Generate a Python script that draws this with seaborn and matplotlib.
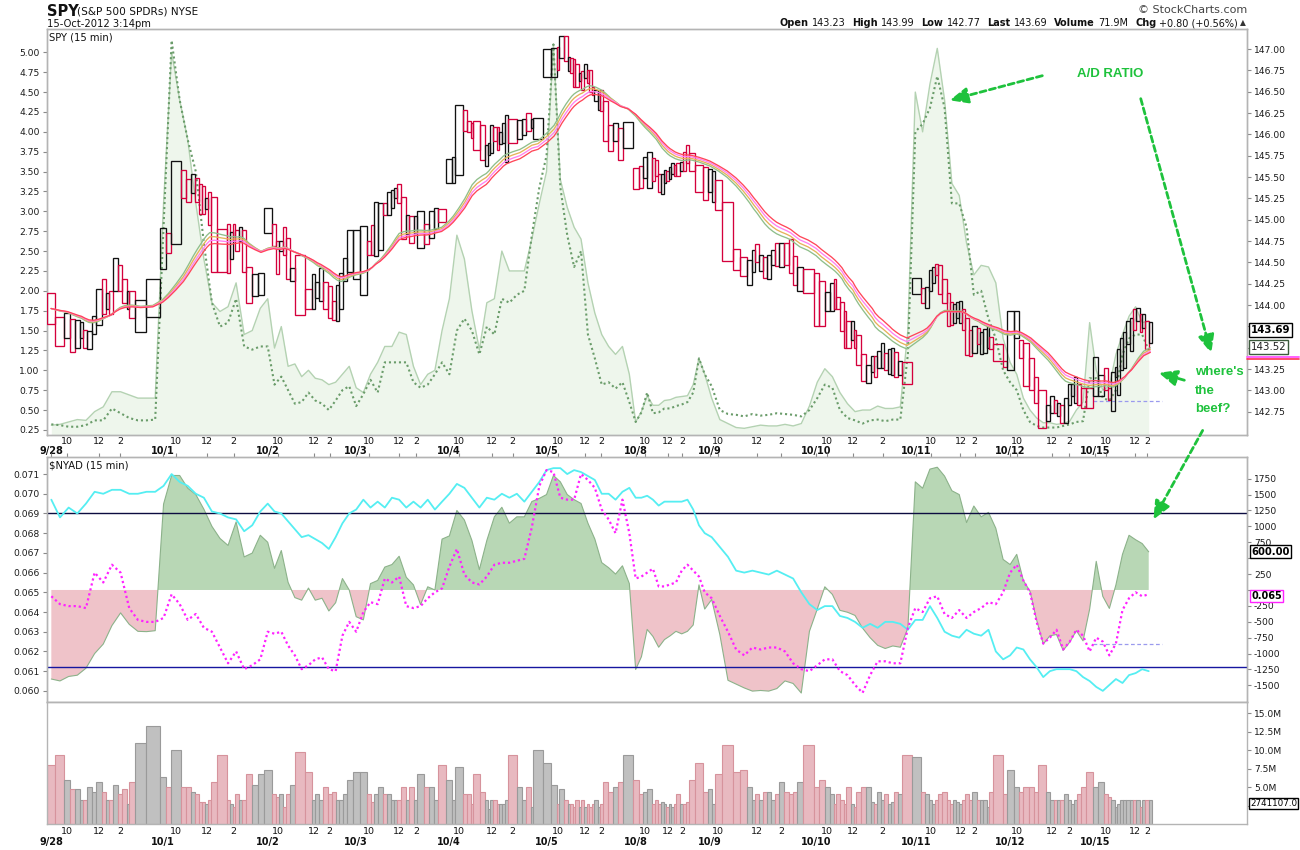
import numpy as np
import pandas as pd
import matplotlib
matplotlib.use("Agg")
import matplotlib.pyplot as plt
import matplotlib.transforms as mtrans
from matplotlib.patches import FancyArrowPatch
import seaborn as sns

# ---------------- data ----------------
day_labels = ["9/28", "10/1", "10/2", "10/3", "10/4", "10/5", "10/8", "10/9",
              "10/10", "10/11", "10/12", "10/15"]
boxes_per_day = [20, 22, 19, 20, 22, 23, 20, 20, 24, 24, 19, 17]
hour_labels = ["10", "12", "2"]
hour_box_idx = [[2, 9, 14], [2, 9, 15], [2, 9, 13], [2, 10, 14], [2, 10, 16],
                [2, 11, 17], [2, 9, 14], [2, 8, 14], [2, 9, 17], [3, 12, 16],
                [1, 8, 13], [2, 11, 15]]

# EquiVolume boxes (15-min): volume in millions (= box width), high, low, direction
box_volume = [
    8, 9.3, 6, 4.7, 4.7, 3.3, 3.3, 5, 4.3, 5.7, 4.3, 3.3, 3.3, 5.3, 4, 4.7, 2.7, 5.7, 11, 13.3,
    6.3, 5, 10, 5, 5, 4.3, 4, 3, 3, 2.7, 3.3, 5.7, 9.3, 3.3, 2.7, 2.3, 4, 3.3, 3.3, 6.7, 5.3, 6.7,
    7.3, 4, 3.7, 4, 2.3, 4, 5.3, 9.7, 7, 3.3, 4, 3.3, 5, 4, 4.3, 3.3, 3.3, 4, 6,
    7, 7, 4, 3, 4, 5, 4, 4, 3.3, 3.3, 3.3, 5, 3.3, 5, 3.3, 6.7, 5, 5, 3.3, 8,
    6, 3.3, 7.7, 4, 4, 2.7, 6.7, 4.3, 3.3, 2, 3.3, 3.3, 2.7, 2.7, 2.7, 3.3, 9.3, 5, 3.3, 5, 2.3, 10,
    8.3, 5.3, 2.7, 4.7, 3.3, 2.7, 2.7, 2.3, 3.3, 2.3, 3.3, 2.3, 2.7, 2.3, 2.7, 3.3, 2.3, 2.7, 5.7, 4.3, 5, 5.7, 9.3,
    6, 4, 4.3, 4.7, 2.7, 3.3, 2.7, 3, 2.7, 2.3, 2.7, 2.3, 2.7, 4, 2.7, 2.7, 3, 6, 8.3, 4.3,
    4.7, 2.7, 6.7, 10.7, 7, 7.3, 5, 3.3, 4, 3.3, 4.3, 4.3, 3.3, 4, 5.7, 4.3, 4, 4.3, 5.7, 10.7,
    5, 6, 5, 4, 2.7, 4, 3.3, 2.7, 5, 2.7, 2.3, 4.3, 5, 5, 3, 2.7, 4.3, 3.3, 4, 2.7, 3, 4.3, 4, 9.3,
    9, 4.3, 4, 3.3, 2.7, 3.3, 4, 4.3, 3.3, 2.7, 3.3, 3, 2.7, 3.3, 4, 3.3, 4.3, 3.3, 3.3, 3.3, 2.3, 4.3, 9.3, 4,
    7.3, 5, 4.3, 5, 5, 4.3, 8, 4.3, 3.3, 3.3, 3.3, 3.3, 4, 3.3, 2.7, 3.3, 4, 5, 7,
    5, 5.7, 4, 3.7, 3.3, 2.3, 2.7, 3.3, 3.3, 3.3, 3.3, 3.3, 3.3, 2.3, 3.3, 3.3, 3.3,
]
box_high = [
    144.14, 143.86, 143.91, 143.84, 143.82, 143.80, 143.71, 143.70, 143.87, 144.19, 144.30, 144.14, 144.17, 144.55, 144.47, 144.30, 144.16, 144.16, 144.06, 144.30,
    144.90, 144.84, 145.69, 145.58, 145.48, 145.54, 145.49, 145.42, 145.40, 145.25, 145.32, 145.27, 144.89, 144.95, 144.86, 144.95, 144.88, 144.91, 144.88, 144.45, 144.36, 144.38,
    145.14, 144.95, 144.75, 144.75, 144.92, 144.79, 144.43, 144.59, 144.19, 144.36, 144.27, 144.43, 144.27, 144.22, 144.05, 144.23, 144.38, 144.55, 144.88,
    144.88, 144.93, 144.75, 144.94, 145.21, 145.20, 145.20, 145.33, 145.35, 145.37, 145.42, 145.27, 145.05, 145.04, 145.04, 145.10, 144.95, 145.10, 145.14, 145.13,
    145.71, 145.73, 146.34, 146.29, 146.16, 146.13, 146.16, 146.11, 145.88, 145.90, 146.11, 146.09, 146.09, 146.03, 146.13, 146.23, 146.18, 146.17, 146.18, 146.25, 146.18, 146.19,
    147.00, 147.01, 147.02, 147.15, 147.15, 146.91, 146.89, 146.88, 146.82, 146.72, 146.74, 146.82, 146.76, 146.76, 146.56, 146.52, 146.50, 146.52, 146.39, 146.11, 146.13, 146.08, 146.14,
    145.61, 145.63, 145.73, 145.79, 145.72, 145.70, 145.54, 145.53, 145.58, 145.57, 145.62, 145.66, 145.64, 145.66, 145.68, 145.79, 145.88, 145.78, 145.64, 145.62,
    145.59, 145.57, 145.47, 145.21, 144.66, 144.56, 144.53, 144.64, 144.71, 144.59, 144.56, 144.59, 144.65, 144.73, 144.73, 144.73, 144.77, 144.57, 144.45, 144.42,
    144.38, 144.28, 144.15, 144.26, 144.30, 144.10, 144.04, 143.93, 143.81, 143.81, 143.71, 143.65, 143.43, 143.30, 143.40, 143.40, 143.46, 143.55, 143.44, 143.48, 143.50, 143.45, 143.34, 143.33,
    144.32, 144.20, 144.21, 144.41, 144.45, 144.48, 144.47, 144.30, 144.14, 144.04, 144.01, 144.04, 144.05, 143.96, 143.85, 143.71, 143.75, 143.73, 143.69, 143.72, 143.75, 143.63, 143.54, 143.34,
    143.93, 143.93, 143.59, 143.55, 143.38, 143.16, 143.01, 142.83, 142.93, 142.89, 142.85, 142.83, 142.91, 143.07, 143.07, 143.16, 143.07, 143.03, 143.03,
    143.39, 143.18, 143.26, 143.03, 143.22, 143.28, 143.48, 143.61, 143.69, 143.81, 143.85, 143.96, 143.97, 143.89, 143.89, 143.81, 143.80,
]
box_low = [
    143.78, 143.52, 143.61, 143.45, 143.50, 143.61, 143.50, 143.49, 143.66, 143.77, 143.89, 143.96, 143.89, 144.16, 144.16, 144.02, 143.96, 143.85, 143.69, 143.86,
    144.42, 144.61, 144.71, 145.25, 145.21, 145.31, 145.21, 145.07, 145.07, 145.13, 144.94, 144.39, 144.39, 144.38, 144.54, 144.75, 144.63, 144.75, 144.39, 144.02, 144.11, 144.12,
    144.84, 144.69, 144.36, 144.63, 144.59, 144.30, 144.28, 143.88, 143.96, 143.96, 144.08, 144.05, 143.95, 143.85, 143.82, 143.81, 143.95, 144.28, 144.39,
    144.30, 144.12, 144.59, 144.59, 144.57, 144.65, 145.06, 145.06, 145.14, 145.25, 145.20, 144.78, 144.83, 144.73, 144.84, 144.67, 144.72, 144.79, 144.89, 144.97,
    145.43, 145.43, 145.52, 146.04, 146.03, 145.96, 145.82, 145.70, 145.63, 145.76, 145.78, 145.92, 145.82, 145.89, 145.90, 145.68, 145.90, 145.94, 145.99, 146.04, 146.07, 145.95,
    146.67, 146.67, 146.75, 146.89, 146.86, 146.74, 146.72, 146.56, 146.56, 146.62, 146.52, 146.66, 146.60, 146.50, 146.46, 146.39, 146.29, 146.27, 145.92, 145.81, 145.92, 145.70, 145.84,
    145.36, 145.37, 145.49, 145.37, 145.45, 145.51, 145.33, 145.30, 145.43, 145.45, 145.48, 145.53, 145.51, 145.51, 145.57, 145.57, 145.66, 145.57, 145.32, 145.23,
    145.33, 145.21, 145.11, 144.52, 144.41, 144.34, 144.24, 144.39, 144.51, 144.40, 144.32, 144.31, 144.47, 144.46, 144.45, 144.47, 144.38, 144.23, 144.16, 144.14,
    143.75, 143.75, 143.93, 143.93, 143.95, 143.95, 143.70, 143.50, 143.50, 143.59, 143.50, 143.30, 143.11, 143.09, 143.22, 143.16, 143.26, 143.26, 143.24, 143.19, 143.18, 143.16, 143.18, 143.07,
    144.13, 144.02, 143.97, 144.16, 144.26, 144.35, 144.13, 144.02, 143.75, 143.77, 143.79, 143.85, 143.79, 143.71, 143.42, 143.40, 143.44, 143.54, 143.43, 143.44, 143.50, 143.48, 143.35, 143.28,
    143.24, 143.61, 143.38, 143.05, 143.01, 142.85, 142.56, 142.64, 142.73, 142.73, 142.70, 142.62, 142.62, 142.83, 142.93, 142.85, 142.83, 142.79, 142.79,
    142.94, 142.94, 143.01, 142.89, 142.76, 143.16, 142.95, 143.24, 143.26, 143.54, 143.46, 143.71, 143.81, 143.69, 143.73, 143.48, 143.55,
]
box_dir = ("rrbrbbrbbbrbrbrrbrbb" "brbrrbrrrbrrrrbrrbrrbb" "brrbrrbrrbbbrrrbbbb"
           "bbrrbbrbbbrrbrbbrbbr" "bbbrrrrrbbbrrbbbrbbrbb" "bbrbrbrrrbrbrrrbbrrrbrb"
           "rrbbrrrbbrbbrrbrrrrr" "bbrrrrbbrbrbbrbrrrbr" "rrbbrrrrrbrrrbbrbbrbbrbr"
           "brbbbrrrrrbbbrrrbrbbbrrr" "bbrrrrrbbrbrbbbbrrr" "bbrrbbbbbbbrbrbrb")

# Indicator samples (every 30 min per day; 10/15 partial)
points_per_day = [13] * 11 + [9]
ad_ratio = [
    0.31, 0.32, 0.35, 0.38, 0.37, 0.48, 0.54, 0.73, 0.73, 0.69, 0.65, 0.65, 0.65,
    3.1, 5.0, 4.4, 3.9, 3.1, 2.4, 1.85, 1.74, 1.8, 2.1, 1.45, 1.5, 1.78,
    1.9, 1.28, 1.55, 1.05, 1.08, 0.92, 1.0, 0.9, 0.88, 0.82, 0.85, 0.95, 1.05,
    0.78, 0.72, 0.95, 1.1, 1.3, 1.3, 1.48, 1.45, 1.05, 0.82, 0.95, 1.0, 1.5,
    1.9, 2.7, 2.4, 1.75, 1.26, 1.85, 1.9, 2.5, 2.25, 2.25, 2.25, 2.65, 3.1,
    3.5, 5.1, 3.4, 3.05, 2.8, 2.65, 2.1, 1.72, 1.45, 1.3, 1.2, 1.3, 0.95,
    0.35, 0.48, 0.68, 0.56, 0.56, 0.62, 0.63, 0.66, 0.67, 0.68, 0.82, 1.15, 0.95,
    0.65, 0.38, 0.33, 0.28, 0.27, 0.29, 0.31, 0.30, 0.30, 0.32, 0.30, 0.33, 0.55,
    0.85, 1.02, 0.92, 0.72, 0.58, 0.48, 0.50, 0.50, 0.55, 0.52, 0.52, 0.54, 1.5,
    4.5, 4.0, 4.6, 5.05, 4.4, 3.35, 3.2, 2.6, 2.2, 2.32, 2.3, 2.1, 1.4,
    1.1, 0.95, 0.65, 0.5, 0.4, 0.34, 0.34, 0.32, 0.33, 0.36, 0.5, 0.6, 1.6,
    1.0, 0.75, 0.8, 1.2, 1.45, 1.68, 1.8, 1.6, 1.62,
]
ad_ratio_2 = [
    0.32, 0.31, 0.29, 0.29, 0.31, 0.37, 0.37, 0.52, 0.46, 0.40, 0.37, 0.37, 0.38,
    2.8, 5.15, 4.4, 3.9, 3.5, 2.6, 1.85, 1.55, 1.6, 1.9, 1.3, 1.26, 1.3,
    1.3, 0.82, 0.92, 0.75, 0.58, 0.6, 0.72, 0.62, 0.58, 0.5, 0.62, 0.75, 0.8,
    0.55, 0.7, 0.88, 0.72, 1.1, 1.1, 1.1, 1.1, 0.85, 0.78, 0.82, 0.95, 1.1,
    0.95, 1.5, 1.65, 1.5, 1.2, 1.55, 1.45, 1.9, 1.85, 1.95, 2.0, 2.7, 3.3,
    3.7, 5.1, 3.3, 2.7, 2.3, 2.5, 1.45, 1.15, 0.82, 0.85, 0.77, 0.85, 0.6,
    0.35, 0.47, 0.72, 0.46, 0.47, 0.52, 0.52, 0.55, 0.57, 0.6, 0.72, 1.15, 0.95,
    0.8, 0.5, 0.45, 0.44, 0.42, 0.45, 0.43, 0.44, 0.46, 0.45, 0.44, 0.42, 0.5,
    0.65, 0.82, 0.78, 0.5, 0.4, 0.37, 0.33, 0.37, 0.38, 0.36, 0.38, 0.38, 1.2,
    4.0, 4.1, 4.3, 4.7, 4.3, 3.1, 3.1, 2.8, 1.95, 2.0, 1.65, 1.4, 1.0,
    0.85, 0.75, 0.5, 0.35, 0.3, 0.28, 0.28, 0.28, 0.3, 0.32, 0.35, 0.36, 0.9,
    0.9, 0.65, 0.62, 0.75, 1.2, 1.4, 1.45, 1.45, 1.25,
]
nyad = [
    -1400, -1430, -1360, -1340, -1230, -1000, -850, -560, -360, -540, -650, -655, -640,
    1350, 1800, 1800, 1600, 1500, 1270, 1000, 810, 700, 1070, 520, 580, 860,
    750, 340, 620, 120, -120, -160, 30, -160, -130, -330, -200, 180, 0,
    -420, -470, 100, 150, 360, 400, 530, 200, 80, -230, 50, 0, 800,
    850, 1250, 1100, 780, 320, 780, 1150, 1300, 1050, 1150, 1150, 1390, 1440,
    1500, 1800, 1700, 1500, 1420, 1360, 1050, 800, 430, 350, 250, 380, 100,
    -1250, -1050, -620, -730, -900, -780, -720, -650, -690, -650, -550, 80, -300,
    -150, -700, -1420, -1480, -1540, -1590, -1580, -1590, -1550, -1430, -1470, -1620, -650,
    -300, 50, -70, -320, -350, -400, -600, -750, -870, -920, -880, -900, -600,
    1700, 1600, 1900, 1930, 1790, 1560, 1500, 1060, 1320, 1150, 1220, 970, 480,
    400, 560, 150, -20, -470, -850, -720, -700, -950, -820, -640, -800, -300,
    450, -100, -290, 80, 560, 860, 790, 730, 600,
]
ratio_cyan = [
    0.0697, 0.0688, 0.0693, 0.0690, 0.0695, 0.0701, 0.0700, 0.0702, 0.0702, 0.0700, 0.0700, 0.0701, 0.0701,
    0.0704, 0.0710, 0.0706, 0.0704, 0.0700, 0.0698, 0.0691, 0.0690, 0.0688, 0.0687, 0.0681, 0.0684, 0.0691,
    0.0695, 0.0691, 0.0690, 0.0686, 0.0682, 0.0678, 0.0679, 0.0677, 0.0675, 0.0672, 0.0678, 0.0685, 0.0690,
    0.0692, 0.0697, 0.0693, 0.0696, 0.0693, 0.0698, 0.0697, 0.0693, 0.0696, 0.0693, 0.0697, 0.0692, 0.0696,
    0.0700, 0.0705, 0.0703, 0.0698, 0.0693, 0.0698, 0.0697, 0.0700, 0.0698, 0.0700, 0.0696, 0.0701, 0.0706,
    0.0712, 0.0713, 0.0713, 0.0710, 0.0712, 0.0711, 0.0709, 0.0707, 0.0700, 0.0700, 0.0697, 0.0701, 0.0703,
    0.0698, 0.0698, 0.0699, 0.0697, 0.0694, 0.0696, 0.0696, 0.0696, 0.0696, 0.0697, 0.0692, 0.0684, 0.0680,
    0.0678, 0.0673, 0.0668, 0.0661, 0.0660, 0.0661, 0.0660, 0.0659, 0.0661, 0.0659, 0.0657, 0.0650, 0.0644,
    0.0641, 0.0643, 0.0643, 0.0638, 0.0637, 0.0635, 0.0632, 0.0634, 0.0632, 0.0635, 0.0635, 0.0634, 0.0631,
    0.0636, 0.0636, 0.0643, 0.0637, 0.0630, 0.0628, 0.0627, 0.0631, 0.0629, 0.0628, 0.0631, 0.0620, 0.0616,
    0.0618, 0.0622, 0.0621, 0.0616, 0.0612, 0.0607, 0.0610, 0.0611, 0.0611, 0.0611, 0.0610, 0.0607, 0.0605,
    0.0602, 0.0600, 0.0603, 0.0606, 0.0604, 0.0608, 0.0609, 0.0611, 0.0610,
]
ratio_magenta = [
    0.0648, 0.0644, 0.0643, 0.0643, 0.0642, 0.0660, 0.0655, 0.0664, 0.0660, 0.0642, 0.0636, 0.0635, 0.0635,
    0.0637, 0.0649, 0.0644, 0.0636, 0.0639, 0.0632, 0.0630, 0.0622, 0.0614, 0.0620, 0.0611, 0.0613, 0.0616,
    0.0630, 0.0629, 0.0630, 0.0623, 0.0618, 0.0611, 0.0613, 0.0616, 0.0617, 0.0611, 0.0610, 0.0628, 0.0635,
    0.0630, 0.0640, 0.0645, 0.0644, 0.0657, 0.0655, 0.0658, 0.0643, 0.0642, 0.0643, 0.0647, 0.0650, 0.0652,
    0.0663, 0.0672, 0.0659, 0.0655, 0.0654, 0.0658, 0.0664, 0.0665, 0.0665, 0.0666, 0.0667, 0.0683, 0.0704,
    0.0712, 0.0711, 0.0698, 0.0697, 0.0697, 0.0710, 0.0707, 0.0703, 0.0692, 0.0687, 0.0680, 0.0697, 0.0680,
    0.0657, 0.0658, 0.0660, 0.0662, 0.0653, 0.0653, 0.0654, 0.0655, 0.0661, 0.0664, 0.0661, 0.0658, 0.0650,
    0.0647, 0.0638, 0.0630, 0.0621, 0.0618, 0.0622, 0.0621, 0.0622, 0.0622, 0.0620, 0.0614, 0.0611, 0.0610,
    0.0613, 0.0616, 0.0616, 0.0610, 0.0608, 0.0603, 0.0599, 0.0608, 0.0615, 0.0615, 0.0614, 0.0614, 0.0632,
    0.0642, 0.0640, 0.0647, 0.0648, 0.0639, 0.0637, 0.0641, 0.0637, 0.0640, 0.0642, 0.0645, 0.0644, 0.0650,
    0.0660, 0.0664, 0.0656, 0.0650, 0.0635, 0.0624, 0.0627, 0.0631, 0.0621, 0.0625, 0.0631, 0.0628, 0.0620,
    0.0627, 0.0625, 0.0618, 0.0624, 0.0641, 0.0647, 0.0650, 0.0648, 0.0649,
]
ma_spans = [18, 20, 22, 24]
ma_colors = ["#8fbf8a", "#e6b25a", "#ff80f2", "#ff4658"]
ratio_upper, ratio_lower = 0.0690, 0.06122
prev_price_level = 142.88
prev_ratio_level = 0.0624
header_stats = [("Open", "143.23"), ("High", "143.99"), ("Low", "142.77"),
                ("Last", "143.69"), ("Volume", "71.9M"), ("Chg", "+0.80 (+0.56%)")]
price_ticks = [142.75, 143.00, 143.25, 143.50, 143.75, 144.00, 144.25, 144.50,
               144.75, 145.00, 145.25, 145.50, 145.75, 146.00, 146.25, 146.50, 146.75, 147.00]
adr_ticks = [0.25, 0.50, 0.75, 1.00, 1.25, 1.50, 1.75, 2.00, 2.25, 2.50, 2.75, 3.00,
             3.25, 3.50, 3.75, 4.00, 4.25, 4.50, 4.75, 5.00]
nyad_ticks = [-1500, -1250, -1000, -750, -500, -250, 0, 250, 500, 750, 1000, 1250, 1500, 1750]
ratio_ticks = [0.060, 0.061, 0.062, 0.063, 0.064, 0.065, 0.066, 0.067, 0.068, 0.069, 0.070, 0.071]
vol_ticks = [2.5, 5.0, 7.5, 10.0, 12.5, 15.0]
# tick labels hidden behind the last-value tags
price_tag_hidden = [143.50, 143.75]
nyad_tag_hidden = [0, 500]
vol_tag_hidden = [2.5]

assert len(box_volume) == len(box_high) == len(box_low) == len(box_dir) == sum(boxes_per_day)
for arr in (ad_ratio, ad_ratio_2, nyad, ratio_cyan, ratio_magenta):
    assert len(arr) == sum(points_per_day)

# ---------------- geometry from data ----------------
vol = np.array(box_volume, float)
hi = np.array(box_high)
lo = np.array(box_low)
up = np.array([c == "b" for c in box_dir])
left = np.concatenate([[0.0], np.cumsum(vol)[:-1]])
center = left + vol / 2
total = vol.sum()
starts = np.concatenate([[0], np.cumsum(boxes_per_day)[:-1]]).astype(int)
day_x0 = left[starts]
day_w = np.array([vol[s:s + n].sum() for s, n in zip(starts, boxes_per_day)])
line_x = np.concatenate([day_x0[d] + (np.arange(n) + 0.5) * day_w[d] / n
                         for d, n in enumerate(points_per_day)])
day_pos = center[starts]
hour_pos = [[center[starts[d] + k] for k in hour_box_idx[d]] for d in range(len(day_labels))]
hour_flat = [p for row in hour_pos for p in row]

# ---------------- figure ----------------
sns.set_theme(style="white")
plt.rcParams["font.family"] = ["DejaVu Sans"]
W, H = 1300, 850
fig = plt.figure(figsize=(W / 100, H / 100), dpi=100)
fig.patch.set_facecolor("white")


def rect(x0, y0, x1, y1):
    return [x0 / W, 1 - y1 / H, (x1 - x0) / W, (y1 - y0) / H]


L, R = 46.7, 1247.0
px_per_unit = (1152 - 47) / total
xlim = (-0.3 / px_per_unit, (R - L - 0.3) / px_per_unit)

ax1 = fig.add_axes(rect(L, 29.3, R, 435))
ax2 = fig.add_axes(rect(L, 457.3, R, 702.3))
ax3 = fig.add_axes(rect(L, 702.3, R, 824))

spine_c = "#b4b4b4"
tick_fs = 6.6


def style(ax):
    for s in ax.spines.values():
        s.set_color(spine_c)
        s.set_linewidth(1.0)
    ax.tick_params(axis="both", which="both", labelsize=tick_fs, labelcolor="#1a1a1a",
                   color="#8a8a8a", length=3, width=0.8, pad=2)


def labels(ticks, fmt, hidden):
    return ["" if any(abs(t - h) < 1e-9 for h in hidden) else fmt(t) for t in ticks]


# ---- top panel: A/D ratio (left) and SPY EquiVolume (right) ----
ax1r = ax1.twinx()
ax1.set_facecolor("white")
ax1.fill_between(line_x, 0, ad_ratio, color="#eef6ec", lw=0, zorder=1)
ax1.plot(line_x, ad_ratio, color="#b4d2b2", lw=1.0, zorder=2)
sns.lineplot(x=line_x, y=np.array(ad_ratio_2), ax=ax1, color="#6a9c6a", lw=1.5,
             linestyle=(0, (1, 1.4)), sort=False, legend=False, zorder=3)
ax1.set_xlim(*xlim)
ax1.set_ylim(0.186, 5.29)
ax1.yaxis.tick_left()
ax1.set_yticks(adr_ticks)
ax1.set_yticklabels([f"{v:.2f}" for v in adr_ticks])
ax1.set_ylabel("")
ax1.set_xticks(day_pos)
ax1.set_xticks(hour_flat, minor=True)
ax1.set_xticklabels([])
ax1.set_xticklabels([], minor=True)
style(ax1)

edge = np.where(up, "#111111", "#d4003c")
ax1r.bar(left, hi - lo, bottom=lo, width=vol, align="edge", fill=False,
         edgecolor=list(edge), linewidth=0.95, zorder=3)
mid = pd.Series((hi + lo) / 2)
for span, c in zip(ma_spans, ma_colors):
    sns.lineplot(x=center, y=mid.ewm(span=span, adjust=False).mean().values, ax=ax1r,
                 color=c, lw=0.95, sort=False, legend=False, zorder=4)
ax1r.plot([day_x0[-1], total + 10 / px_per_unit], [prev_price_level] * 2,
          color="#9a9aee", lw=0.9, ls=(0, (3, 2)), zorder=2)
ax1r.yaxis.tick_right()
ax1r.set_ylim(142.478, 147.231)
ax1r.set_yticks(price_ticks)
ax1r.set_yticklabels(labels(price_ticks, lambda v: f"{v:.2f}", price_tag_hidden))
ax1r.set_ylabel("")
ax1r.set_xlim(*xlim)
ax1r.tick_params(axis="x", which="both", bottom=False, labelbottom=False)
style(ax1r)

blend1 = mtrans.blended_transform_factory(ax1r.transAxes, ax1r.transData)
ax1r.text(1.0 + 4 / (R - L), 143.71, "143.69", transform=blend1, ha="left", va="center",
          fontsize=7.4, fontweight="bold", color="black", clip_on=False, zorder=20,
          bbox=dict(boxstyle="square,pad=0.18", fc="white", ec="black", lw=1.0))
ax1r.text(1.0 + 4 / (R - L), 143.505, "143.52", transform=blend1, ha="left", va="center",
          fontsize=7.4, color="#222222", clip_on=False, zorder=20,
          bbox=dict(boxstyle="square,pad=0.18", fc="white", ec="#3c5a3c", lw=1.0))
ax1r.plot([1.0, 1.0 + 52 / (R - L)], [143.39, 143.39], transform=blend1, color="#ff60ff",
          lw=1.4, clip_on=False, zorder=19)
ax1r.plot([1.0, 1.0 + 52 / (R - L)], [143.37, 143.37], transform=blend1, color="#ff3050",
          lw=1.2, clip_on=False, zorder=19)

# ---- middle panel: $NYAD ----
ax2b = ax2.twinx()
ny = np.array(nyad, float)
ax2.set_facecolor("white")
ax2.fill_between(line_x, 0, ny, where=ny >= 0, interpolate=True, color="#b8d7b5", lw=0, zorder=1)
ax2.fill_between(line_x, 0, ny, where=ny <= 0, interpolate=True, color="#efc3c9", lw=0, zorder=1)
ax2.plot(line_x, ny, color="#8cb28a", lw=0.8, zorder=2)
ax2.yaxis.tick_right()
ax2.set_xlim(*xlim)
ax2.set_ylim(-1766, 2086)
ax2.set_yticks(nyad_ticks)
ax2.set_yticklabels(labels(nyad_ticks, lambda v: str(v), nyad_tag_hidden))
ax2.set_xticks(day_pos)
ax2.set_xticks(hour_flat, minor=True)
style(ax2)
ax2.tick_params(axis="x", which="both", top=True, bottom=False, labelbottom=False,
                labeltop=False, direction="out", length=3)
ax2.tick_params(axis="y", which="both", left=False, labelleft=False, right=True, labelright=True)

sns.lineplot(x=line_x, y=np.array(ratio_cyan), ax=ax2b, color="#55eef2", lw=1.3,
             sort=False, legend=False, zorder=3)
sns.lineplot(x=line_x, y=np.array(ratio_magenta), ax=ax2b, color="#ff22ff", lw=1.6,
             linestyle=(0, (1, 1.3)), sort=False, legend=False, zorder=4)
ax2b.axhline(ratio_upper, color="#0c0c40", lw=1.0, zorder=2)
ax2b.axhline(ratio_lower, color="#1616a0", lw=1.0, zorder=2)
ax2b.plot([day_x0[-1], total + 10 / px_per_unit], [prev_ratio_level] * 2,
          color="#9a9aee", lw=0.9, ls=(0, (3, 2)), zorder=2)
ax2b.set_ylim(0.05942, 0.07185)
ax2b.set_yticks(ratio_ticks)
ax2b.set_yticklabels([f"{v:.3f}" for v in ratio_ticks])
ax2b.set_ylabel("")
ax2b.set_xlim(*xlim)
style(ax2b)
ax2b.tick_params(axis="y", which="both", left=True, labelleft=True, right=False, labelright=False)
ax2b.tick_params(axis="x", which="both", bottom=False, top=False, labelbottom=False, labeltop=False)

blend2 = mtrans.blended_transform_factory(ax2.transAxes, ax2.transData)
ax2.text(1.0 + 4 / (R - L), 602, "600.00", transform=blend2, ha="left", va="center",
         fontsize=7.2, fontweight="bold", color="black", clip_on=False, zorder=20,
         bbox=dict(boxstyle="square,pad=0.15", fc="white", ec="black", lw=1.0))
blend2b = mtrans.blended_transform_factory(ax2b.transAxes, ax2b.transData)
ax2b.text(1.0 + 4 / (R - L), 0.06483, "0.065", transform=blend2b, ha="left", va="center",
          fontsize=7.0, fontweight="bold", color="black", clip_on=False, zorder=20,
          bbox=dict(boxstyle="square,pad=0.12", fc="white", ec="#ff22ff", lw=1.0))

# ---- bottom panel: volume ----
face = np.where(up, "#c0c0c0", "#e8b9c0")
vedge = np.where(up, "#9a9a9a", "#d6939c")
ax3.set_facecolor("white")
ax3.bar(left, vol, width=vol, align="edge", color=list(face), edgecolor=list(vedge), linewidth=0.8)
ax3.yaxis.tick_right()
ax3.set_xlim(*xlim)
ax3.set_ylim(0, 16.45)
ax3.set_yticks(vol_ticks)
ax3.set_yticklabels(labels(vol_ticks, lambda v: f"{v:.1f}M", vol_tag_hidden))
ax3.set_xticks(day_pos)
ax3.set_xticks(hour_flat, minor=True)
ax3.set_xticklabels([])
ax3.set_xticklabels([], minor=True)
style(ax3)
blend3 = mtrans.blended_transform_factory(ax3.transAxes, ax3.transData)
ax3.text(1.0 + 3 / (R - L), 2.75, "2741107.0", transform=blend3, ha="left", va="center",
         fontsize=6.3, color="black", clip_on=False, zorder=20,
         bbox=dict(boxstyle="square,pad=0.15", fc="white", ec="black", lw=1.0))

# ---- date / hour labels ----
for ax, y_hour, y_day in ((ax1, 441.5, 451.5), (ax3, 831.5, 842.5)):
    tr = mtrans.blended_transform_factory(ax.transData, fig.transFigure)
    for d, lab in enumerate(day_labels):
        ax.text(day_pos[d], 1 - y_day / H, lab, transform=tr, ha="center", va="center",
                fontsize=7.0, fontweight="bold", color="#111111", clip_on=False)
        for k, h in enumerate(hour_labels):
            ax.text(hour_pos[d][k], 1 - y_hour / H, h, transform=tr, ha="center", va="center",
                    fontsize=6.8, color="#111111", clip_on=False)

# ---- titles / header ----
fig.text(47 / W, 1 - 12 / H, "SPY", fontsize=10.5, fontweight="bold", va="center", ha="left",
         color="#111111")
fig.text(77 / W, 1 - 11.5 / H, "(S&P 500 SPDRs) NYSE", fontsize=7.6, va="center", ha="left",
         color="#111111")
fig.text(47 / W, 1 - 24 / H, "15-Oct-2012 3:14pm", fontsize=7.2, va="center", ha="left",
         color="#111111")
fig.text(49 / W, 1 - 37 / H, "SPY (15 min)", fontsize=7.2, va="center", ha="left", color="#111111")
fig.text(49 / W, 1 - 465 / H, r"\$NYAD (15 min)", fontsize=7.2, va="center", ha="left",
         color="#111111")
fig.text(1247 / W, 1 - 10 / H, "© StockCharts.com", fontsize=8.0, va="center", ha="right",
         color="#444444")

renderer = fig.canvas.get_renderer()
x = 1238.0
yh = 1 - 23 / H
for lab, val in reversed(header_stats):
    t = fig.text(x / W, yh, val, fontsize=7.0, va="center", ha="right", color="#111111")
    x -= t.get_window_extent(renderer).width + 3
    t2 = fig.text(x / W, yh, lab, fontsize=7.0, fontweight="bold", va="center", ha="right",
                  color="#111111")
    x -= t2.get_window_extent(renderer).width + 7
fig.text(1240 / W, yh, "▲", fontsize=5.5, va="center", ha="left", color="#333333")

# ---- annotations ----
green = "#1ec23c"


def farrow(p0, p1):
    a = FancyArrowPatch((p0[0] / W, 1 - p0[1] / H), (p1[0] / W, 1 - p1[1] / H),
                        transform=fig.transFigure,
                        arrowstyle="-|>,head_length=0.5,head_width=0.22",
                        mutation_scale=22, lw=2.0, linestyle=(0, (2.2, 1.3)),
                        color=green, zorder=30)
    fig.patches.append(a)


farrow((1045, 75), (947, 101))
farrow((1140, 96), (1212, 356))
farrow((1187, 381), (1156, 372))
farrow((1204, 428), (1152, 522))
fig.text(1110 / W, 1 - 74 / H, "A/D RATIO", fontsize=9.5, fontweight="bold",
         family=["Liberation Sans", "DejaVu Sans"], color=green, ha="center", va="center")
for txt, yy in (("where's", 372), ("the", 390.5), ("beef?", 408.5)):
    fig.text(1195 / W, 1 - yy / H, txt, fontsize=9.5, fontweight="bold",
             family=["Liberation Sans", "DejaVu Sans"], color=green, ha="left", va="center")

fig.savefig("out.png", dpi=100, facecolor="white")
